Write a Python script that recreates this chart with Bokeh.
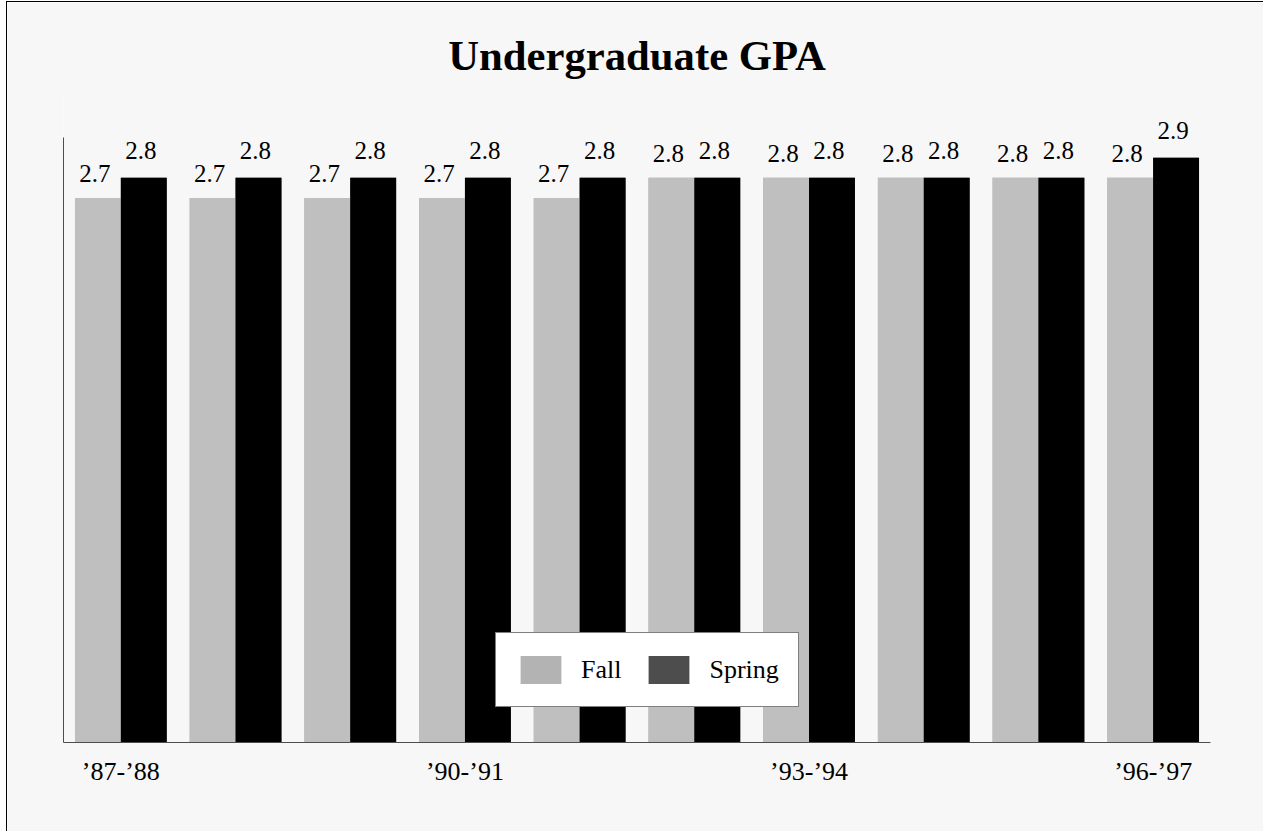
from bokeh.plotting import figure
from bokeh.models import (ColumnDataSource, FixedTicker, Legend, LegendItem, Range1d, LabelSet)
from bokeh.core.properties import value
from bokeh.embed import file_html
from bokeh.resources import INLINE

# ---- data ----
years = ["’87-’88", "’88-’89", "’89-’90", "’90-’91", "’91-’92",
         "’92-’93", "’93-’94", "’94-’95", "’95-’96", "’96-’97"]
fall = [2.7, 2.7, 2.7, 2.7, 2.7, 2.8, 2.8, 2.8, 2.8, 2.8]
spring = [2.8, 2.8, 2.8, 2.8, 2.8, 2.8, 2.8, 2.8, 2.8, 2.9]
shown_ticks = [0, 3, 6, 9]
axis_top = 3.0

FONT = "Liberation Serif"
BG = "#f7f7f7"

# layout: 605 px of frame per 3.0 units, extra headroom above for the labels
AXIS_PX = 605
FRAME_PX = 645
y_end = axis_top * FRAME_PX / AXIS_PX

idx = list(range(len(years)))
src = ColumnDataSource(dict(
    xf=[i + 0.3 for i in idx],
    xs=[i + 0.7 for i in idx],
    fall=fall,
    spring=spring,
    fall_lbl=[f"{v:.1f}" for v in fall],
    spring_lbl=[f"{v:.1f}" for v in spring],
))

p = figure(width=1256, height=829, output_backend="svg", toolbar_location=None,
           x_range=Range1d(0, len(years)), y_range=Range1d(0, y_end),
           min_border_left=56, min_border_right=53, min_border_bottom=89,
           min_border_top=95)
p.frame_width = 1147
p.frame_height = FRAME_PX
p.background_fill_color = BG
p.border_fill_color = BG
p.outline_line_color = None
p.grid.visible = False
p.styles = {"border-left": "1px solid black", "border-top": "1px solid black",
            "margin-left": "6px", "margin-top": "1px"}

p.title.text = "Undergraduate GPA"
p.title.text_font = FONT
p.title.text_font_size = "42.7px"
p.title.text_font_style = "bold"
p.title.text_color = "#000000"
p.title.align = "center"
p.title.standoff = 37

# legend swatch renderers (slightly different greys), drawn underneath the bars
lf = p.vbar(x="xf", top="fall", width=0.4, source=src, fill_color="#b3b3b3", line_color=None)
ls = p.vbar(x="xs", top="spring", width=0.4, source=src, fill_color="#4d4d4d", line_color=None)
rf = p.vbar(x="xf", top="fall", width=0.4, source=src, fill_color="#bfbfbf", line_color=None)
rs = p.vbar(x="xs", top="spring", width=0.4, source=src, fill_color="#000000", line_color=None)

fall_labels = LabelSet(x="xf", y="fall", text="fall_lbl", source=src,
                       text_font=value(FONT), text_font_size="25px",
                       text_align="center", text_baseline="alphabetic",
                       x_offset=-3, y_offset=16, text_color="#000000")
spring_labels = LabelSet(x="xs", y="spring", text="spring_lbl", source=src,
                         text_font=value(FONT), text_font_size="25px",
                         text_align="center", text_baseline="alphabetic",
                         x_offset=-3, y_offset=19, text_color="#000000")
p.add_layout(fall_labels)
p.add_layout(spring_labels)

# axes
p.xaxis.ticker = FixedTicker(ticks=[i + 0.5 for i in shown_ticks])
p.xaxis.major_label_overrides = {i + 0.5: years[i] for i in shown_ticks}
p.xaxis.major_tick_line_color = None
p.xaxis.minor_tick_line_color = None
p.xaxis.major_label_text_font = FONT
p.xaxis.major_label_text_font_size = "26px"
p.xaxis.major_label_text_color = "#000000"
p.xaxis.major_label_standoff = 8
p.xaxis.axis_line_color = "#4d4d4d"

p.yaxis.ticker = FixedTicker(ticks=[])
p.yaxis.bounds = (0, axis_top)
p.yaxis.major_tick_line_color = None
p.yaxis.minor_tick_line_color = None
p.yaxis.major_label_text_font_size = "0px"
p.yaxis.axis_line_color = "#4d4d4d"

legend = Legend(items=[LegendItem(label="Fall", renderers=[lf]),
                       LegendItem(label="Spring", renderers=[ls])],
                orientation="horizontal", location=(432, 35))
legend.label_text_font = FONT
legend.label_text_font_size = "26px"
legend.label_text_color = "#000000"
legend.glyph_width = 51
legend.glyph_height = 35
legend.label_height = 35
legend.label_standoff = 15
legend.spacing = 22
legend.padding = 19
legend.margin = 0
legend.border_line_color = "#000000"
legend.border_line_width = 1
legend.background_fill_color = "#ffffff"
legend.background_fill_alpha = 1.0
p.add_layout(legend, "center")

open("out.html", "w").write(file_html(p, INLINE))
